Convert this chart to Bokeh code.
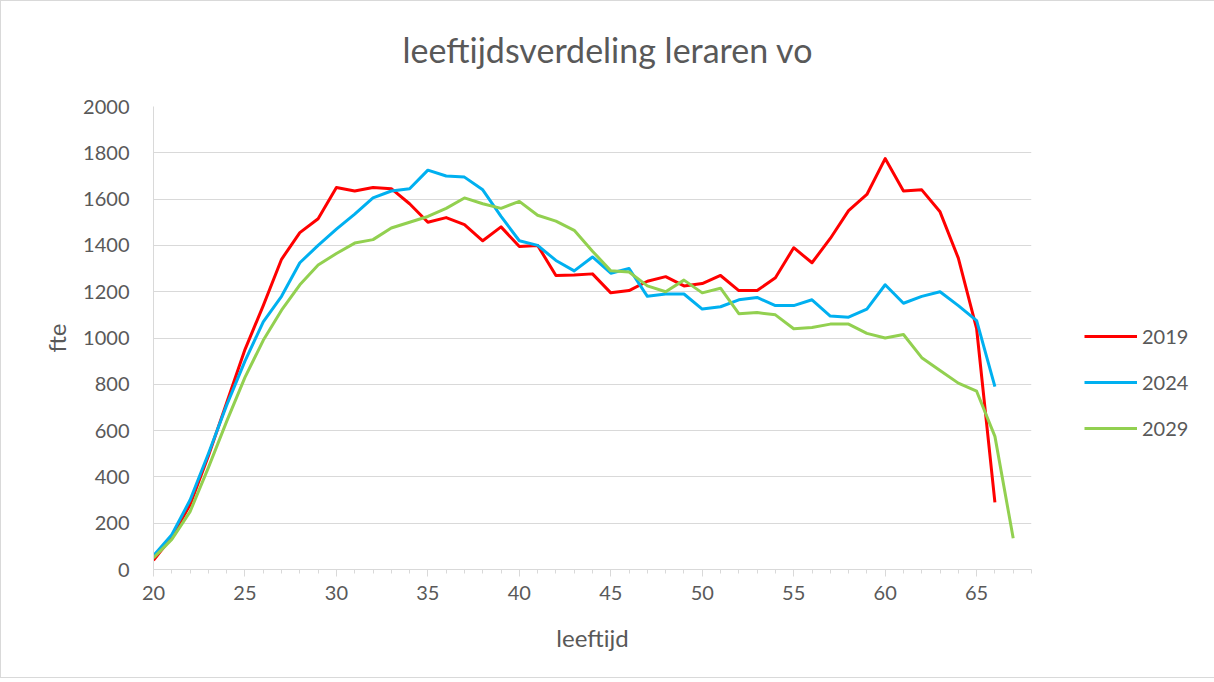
from bokeh.plotting import figure
from bokeh.models import Range1d, SingleIntervalTicker, Legend, LegendItem, Title
from bokeh.embed import file_html
from bokeh.resources import INLINE

ages_2019 = list(range(20, 67))
fte_2019 = [40, 140, 280, 490, 720, 950, 1140, 1340, 1455, 1515,
            1650, 1635, 1650, 1645, 1580, 1500, 1520, 1490, 1420, 1480,
            1395, 1400, 1270, 1272, 1277, 1195, 1205, 1245, 1265, 1225,
            1235, 1270, 1205, 1205, 1260, 1390, 1325, 1430, 1550, 1620,
            1775, 1635, 1640, 1545, 1345, 1040, 290]

ages_2024 = list(range(20, 67))
fte_2024 = [60, 150, 300, 500, 710, 900, 1070, 1180, 1325, 1400,
            1470, 1535, 1605, 1635, 1645, 1725, 1700, 1695, 1640, 1525,
            1420, 1400, 1335, 1290, 1350, 1280, 1300, 1180, 1190, 1190,
            1125, 1135, 1165, 1175, 1140, 1140, 1165, 1095, 1090, 1125,
            1230, 1150, 1180, 1200, 1140, 1075, 790]

ages_2029 = list(range(20, 68))
fte_2029 = [50, 130, 250, 440, 640, 830, 990, 1120, 1230, 1315,
            1365, 1410, 1425, 1475, 1500, 1525, 1560, 1605, 1580, 1560,
            1590, 1530, 1505, 1465, 1375, 1290, 1285, 1225, 1200, 1250,
            1195, 1215, 1105, 1110, 1100, 1040, 1045, 1060, 1060, 1020,
            1000, 1015, 915, 860, 805, 770, 575, 135]

series_names = ["2019", "2024", "2029"]
series_colors = ["#FF0000", "#00B0F0", "#92D050"]

FONT = "Lato"
TXT = "#595959"
GRID = "#d9d9d9"

p = figure(frame_width=878, frame_height=463, output_backend="svg", toolbar_location=None,
           x_range=Range1d(20, 68), y_range=Range1d(0, 2000),
           min_border_left=152, min_border_top=105, min_border_right=174,
           min_border_bottom=108, title=None)
p.styles = {"border": "1px solid #d9d9d9"}
p.outline_line_color = None

renderers = []
for xs, ys, c in zip([ages_2019, ages_2024, ages_2029],
                     [fte_2019, fte_2024, fte_2029], series_colors):
    r = p.line(xs, ys, line_color=c, line_width=3, line_join="round")
    renderers.append(r)

# x axis
p.xaxis.ticker = SingleIntervalTicker(interval=5, num_minor_ticks=5)
p.xaxis.axis_line_color = GRID
p.xaxis.major_tick_line_color = GRID
p.xaxis.minor_tick_line_color = GRID
p.xaxis.major_tick_in = 0
p.xaxis.major_tick_out = 7
p.xaxis.minor_tick_in = 0
p.xaxis.minor_tick_out = 4
p.xaxis.major_label_standoff = 9
p.xaxis.major_label_text_font = FONT
p.xaxis.major_label_text_font_size = "20px"
p.xaxis.major_label_text_color = TXT
p.xaxis.axis_label = "leeftijd"
p.xaxis.axis_label_text_font = FONT
p.xaxis.axis_label_text_font_size = "24px"
p.xaxis.axis_label_text_font_style = "normal"
p.xaxis.axis_label_text_color = TXT
p.xaxis.axis_label_standoff = 20

# y axis
p.yaxis.ticker = SingleIntervalTicker(interval=200, num_minor_ticks=0)
p.yaxis.axis_line_color = GRID
p.yaxis.major_tick_line_color = None
p.yaxis.minor_tick_line_color = None
p.yaxis.major_tick_out = 0
p.yaxis.major_tick_in = 0
p.yaxis.major_label_standoff = 24
p.yaxis.major_label_text_font = FONT
p.yaxis.major_label_text_font_size = "20px"
p.yaxis.major_label_text_color = TXT
p.yaxis.axis_label = "fte"
p.yaxis.axis_label_text_font = FONT
p.yaxis.axis_label_text_font_size = "24px"
p.yaxis.axis_label_text_font_style = "normal"
p.yaxis.axis_label_text_color = TXT
p.yaxis.axis_label_standoff = 9

p.xgrid.grid_line_color = None
p.ygrid.grid_line_color = GRID
p.ygrid.grid_line_width = 1

# title with spacer
p.add_layout(Title(text=" ", text_font_size="18px"), "above")
p.add_layout(Title(text="leeftijdsverdeling leraren vo", align="left", offset=249,
                   text_font=FONT, text_font_size="34px", text_font_style="normal",
                   text_color=TXT), "above")

legend = Legend(items=[LegendItem(label=n, renderers=[r]) for n, r in zip(series_names, renderers)],
                location=(53, 129), orientation="vertical",
                glyph_width=53, glyph_height=24, label_height=24, spacing=22,
                padding=0, margin=0, label_standoff=5,
                label_text_font=FONT, label_text_font_size="20px", label_text_color=TXT,
                border_line_color=None, background_fill_alpha=0)
p.add_layout(legend, "right")

open("out.html", "w").write(file_html(p, INLINE))
